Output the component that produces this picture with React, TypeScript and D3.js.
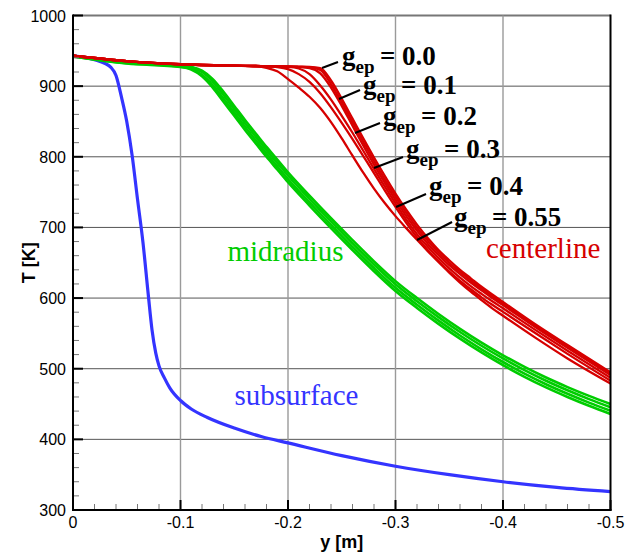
import React from "react";
import * as d3 from "d3";

// ---------- data ----------
const X_TICKS = [0, -0.1, -0.2, -0.3, -0.4, -0.5];
const X_TICK_LABELS = ["0", "-0.1", "-0.2", "-0.3", "-0.4", "-0.5"];
const Y_TICKS = [300, 400, 500, 600, 700, 800, 900, 1000];
const Y_TICK_LABELS = ["300", "400", "500", "600", "700", "800", "900", "1000"];

const BLUE_Y = [0, -0.01, -0.02, -0.03, -0.035, -0.04, -0.045, -0.05, -0.055, -0.06, -0.065, -0.07, -0.0735, -0.077, -0.08, -0.085, -0.09, -0.1, -0.11, -0.125, -0.15, -0.175, -0.2, -0.25, -0.3, -0.35, -0.4, -0.45, -0.5];
const BLUE_T = [943, 941, 937.5, 932, 927, 915, 885, 850, 802, 740, 680, 605, 555, 522, 504, 487, 473, 455, 443, 431, 416, 404, 395, 377, 362, 350, 340, 332, 326];

const GREEN_Y = [0, -0.05, -0.1, -0.11, -0.12, -0.13, -0.14, -0.15, -0.16, -0.17, -0.18, -0.19, -0.2, -0.22, -0.24, -0.26, -0.28, -0.3, -0.32, -0.34, -0.36, -0.38, -0.4, -0.42, -0.44, -0.46, -0.48, -0.5];
const GREEN_1 = [943, 934.5, 929.5, 927.5, 922, 910, 892, 872, 852, 833, 814, 796, 778, 745, 713, 682, 652, 624, 600, 577.5, 556.5, 537, 519, 502.5, 487.5, 474, 461.5, 450];
const GREEN_2 = [942.5, 933.5, 928.5, 926.5, 920, 906.5, 887.5, 867.5, 847.5, 828.5, 809.5, 791.5, 773.5, 740.5, 708.5, 677.5, 647.5, 619.5, 595.5, 573, 552, 532.5, 514.5, 498, 483, 469.5, 457, 445.5];
const GREEN_3 = [942, 932.5, 927.5, 924.5, 916, 901.5, 882.5, 862.5, 842.5, 823.5, 804.5, 786.5, 768.5, 735.5, 703.5, 672.5, 642.5, 614.5, 590.5, 568, 547, 527.5, 509.5, 493, 478, 464.5, 452, 440.5];
const GREEN_4 = [942, 932, 927, 923.5, 914, 898, 878, 858, 838, 819, 800, 782, 764, 731, 699, 668, 638, 610, 586, 563.5, 542.5, 523, 505, 488.5, 473.5, 460, 447.5, 436];

const RED_Y = [0, -0.05, -0.1, -0.15, -0.17, -0.18, -0.19, -0.2, -0.21, -0.22, -0.23, -0.24, -0.25, -0.26, -0.27, -0.28, -0.29, -0.3, -0.31, -0.32, -0.33, -0.34, -0.35, -0.36, -0.37, -0.38, -0.39, -0.4, -0.43, -0.46, -0.5];
const RED_000 = [943, 935.5, 931, 929, 928.5, 928.2, 928, 927.8, 927.5, 927.2, 925.5, 908, 882, 854, 826, 799, 773, 748, 725, 704, 685, 668, 653.5, 640, 628, 616, 605, 594.5, 563, 533.5, 495];
const RED_010 = [943, 935.5, 931, 929, 928.5, 928.2, 928, 927.8, 927.4, 926.8, 923, 903, 877, 849, 821, 794, 768, 743.5, 720.5, 699.5, 681, 664.5, 650, 637, 625, 613.5, 602.5, 592, 561, 531.5, 493];
const RED_020 = [943, 935.5, 931, 929, 928.5, 928.2, 928, 927.6, 927, 925.5, 918, 898, 872, 844, 816, 789, 763.5, 739, 716, 695.5, 677, 661, 646.5, 634, 622, 611, 600, 590, 559, 529.5, 491];
const RED_030 = [943, 935.5, 931, 929, 928.5, 928.2, 927.8, 927.3, 925, 917, 901, 881, 858, 834, 808.5, 783, 758, 734, 711, 690.5, 672.5, 656.5, 642, 629, 617, 606, 595.5, 585.5, 555, 525.5, 487];
const RED_040 = [943, 935.5, 931, 929, 928.5, 928, 927, 924, 917, 906, 890, 870, 848, 825, 801, 777, 752.5, 729, 706.5, 686, 668, 652, 637.5, 624.5, 612.5, 601, 590.5, 580.5, 550.5, 521, 483];
const RED_055 = [943, 935.5, 931, 929, 928, 926, 921, 910, 898, 885, 869, 849, 826, 801.5, 777.5, 755, 734.5, 716, 699, 682.5, 666.5, 651, 636, 622, 609, 597, 585.5, 575, 544, 514.5, 479];

const GEP_VALUES = ["0.0", "0.1", "0.2", "0.3", "0.4", "0.55"];
// leader line start (on curve), leader end, label anchor — in data units [y, T]
const GEP_LEADER_START = [[-0.2316, 925.7], [-0.2474, 881.8], [-0.2623, 833.7], [-0.28, 784.1], [-0.3005, 728.9], [-0.32, 682.2]];
const GEP_LEADER_END = [[-0.2465, 934.2], [-0.267, 894.5], [-0.2856, 847.8], [-0.307, 799.7], [-0.3284, 747.3], [-0.3526, 707.7]];
const GEP_LABEL_AT = [[-0.2502, 929.9], [-0.2698, 888.9], [-0.2884, 845.0], [-0.3098, 798.3], [-0.3312, 745.9], [-0.3544, 702.0]];

const CURVE_LABELS = ["midradius", "centerline", "subsurface"];
const CURVE_LABEL_AT = [[-0.1437, 653], [-0.3842, 657], [-0.1502, 449]];

const RED = "#d60000";
const GREEN = "#00cc00";
const BLUE = "#3434ff";

export default function App() {
  const W = 633, H = 555;
  const L = 73, R = 610.5, T = 15.5, B = 510;
  const x = d3.scaleLinear().domain([0, -0.5]).range([L, R]);
  const y = d3.scaleLinear().domain([300, 1000]).range([B, T]);
  const line = (ys: number[], ts: number[]) =>
    d3.line<number>().x((_, i) => x(ys[i])).y((t) => y(t)).curve(d3.curveMonotoneX)(ts) || "";

  const minorX = d3.range(0, -0.5001, -0.02).filter((v) => Math.abs(Math.round(v * 10) - v * 10) > 1e-6);
  const minorY = d3.range(300, 1000.1, 20).filter((v) => v % 100 !== 0);

  const greens = [GREEN_4, GREEN_3, GREEN_2, GREEN_1];
  const reds = [RED_055, RED_040, RED_030, RED_020, RED_010, RED_000];

  return (
    <svg width={W} height={H} style={{ position: "absolute", left: 0, top: 0, background: "#fff" }}>
      <defs>
        <clipPath id="plot">
          <rect x={L} y={T} width={R - L} height={B - T} />
        </clipPath>
      </defs>
      {/* grid */}
      {Y_TICKS.filter((v) => v > 300).map((v) => (
        <line key={"gy" + v} x1={L} x2={R} y1={y(v)} y2={y(v)} stroke={v === 1000 ? "#777" : "#555"} strokeWidth={v === 1000 ? 2 : 1} />
      ))}
      {X_TICKS.filter((v) => v < 0 && v > -0.5).map((v) => (
        <line key={"gx" + v} x1={x(v)} x2={x(v)} y1={T} y2={B} stroke="#9a9a9a" strokeWidth={1.4} />
      ))}
      {/* curves */}
      <g clipPath="url(#plot)" fill="none" strokeLinejoin="round">
        <path d={line(BLUE_Y, BLUE_T)} stroke={BLUE} strokeWidth={3.2} />
        {greens.map((g, i) => (
          <path key={"g" + i} d={line(GREEN_Y, g)} stroke={GREEN} strokeWidth={2.6} />
        ))}
        {reds.map((r, i) => (
          <path key={"r" + i} d={line(RED_Y, r)} stroke={RED} strokeWidth={2.3} />
        ))}
      </g>
      {/* minor ticks */}
      {minorY.map((v) => (
        <line key={"my" + v} x1={L} x2={L + 6} y1={y(v)} y2={y(v)} stroke="#777" strokeWidth={1} />
      ))}
      {minorX.map((v) => (
        <line key={"mx" + v} x1={x(v)} x2={x(v)} y1={B} y2={B - 6} stroke="#777" strokeWidth={1} />
      ))}
      {/* major ticks */}
      {Y_TICKS.map((v) => (
        <line key={"ty" + v} x1={L} x2={L + 10} y1={y(v)} y2={y(v)} stroke="#000" strokeWidth={2} />
      ))}
      {X_TICKS.map((v) => (
        <line key={"tx" + v} x1={x(v)} x2={x(v)} y1={B} y2={B - 10} stroke="#000" strokeWidth={2} />
      ))}
      {/* frame */}
      <line x1={L} x2={L} y1={T - 1} y2={B + 1} stroke="#000" strokeWidth={2} />
      <line x1={L - 1} x2={R + 1} y1={B} y2={B} stroke="#000" strokeWidth={2} />
      <line x1={R} x2={R} y1={T - 1} y2={B + 1} stroke="#000" strokeWidth={2} />
      {/* tick labels */}
      <g fontFamily="'Liberation Sans', Arial, sans-serif" fontSize={16} fill="#000">
        {Y_TICKS.map((v, i) => (
          <text key={"ly" + v} x={L - 7} y={y(v) + 6} textAnchor="end">{Y_TICK_LABELS[i]}</text>
        ))}
        {X_TICKS.map((v, i) => (
          <text key={"lx" + v} x={x(v)} y={B + 18} textAnchor="middle">{X_TICK_LABELS[i]}</text>
        ))}
      </g>
      {/* axis titles */}
      <text x={(L + R) / 2} y={548} textAnchor="middle" fontFamily="'Liberation Sans', Arial, sans-serif" fontWeight="bold" fontSize={18}>y [m]</text>
      <text transform={`translate(35, ${(T + B) / 2}) rotate(-90)`} textAnchor="middle" fontFamily="'Liberation Sans', Arial, sans-serif" fontWeight="bold" fontSize={18}>T [K]</text>
      {/* curve labels */}
      <g fontFamily="'Liberation Serif', 'Times New Roman', serif" fontSize={29}>
        <text x={x(CURVE_LABEL_AT[0][0])} y={y(CURVE_LABEL_AT[0][1])} fill={GREEN}>{CURVE_LABELS[0]}</text>
        <text x={x(CURVE_LABEL_AT[1][0])} y={y(CURVE_LABEL_AT[1][1])} fill={RED}>{CURVE_LABELS[1]}</text>
        <text x={x(CURVE_LABEL_AT[2][0])} y={y(CURVE_LABEL_AT[2][1])} fill={BLUE}>{CURVE_LABELS[2]}</text>
      </g>
      {/* g_ep labels */}
      {GEP_VALUES.map((g, i) => {
        const [sy, st] = GEP_LEADER_START[i];
        const [ey, et] = GEP_LEADER_END[i];
        const [ly, lt] = GEP_LABEL_AT[i];
        const lx = x(ly);
        return (
          <g key={"gep" + i}>
            <line x1={x(sy)} y1={y(st)} x2={x(ey)} y2={y(et)} stroke="#000" strokeWidth={2} />
            <text x={lx} y={y(lt)} fontFamily="'Liberation Serif', 'Times New Roman', serif" fontWeight="bold" fontSize={27} fill="#000">
              <tspan>g</tspan>
              <tspan dy={8} fontSize={19}>ep</tspan>
              <tspan x={lx + 38} dy={-8}>{"= " + g}</tspan>
            </text>
          </g>
        );
      })}
    </svg>
  );
}
